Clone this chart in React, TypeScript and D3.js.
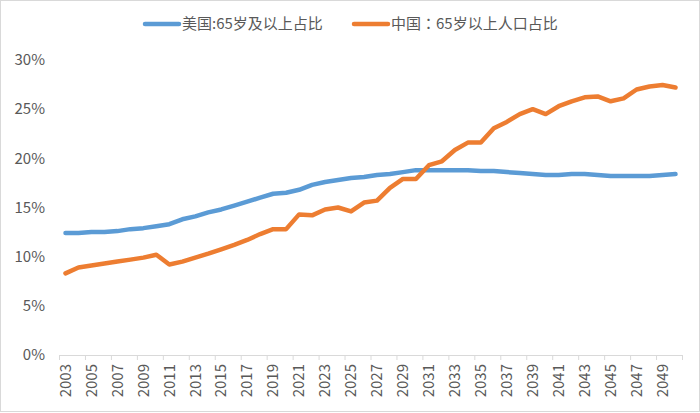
import React from 'react'
import * as d3 from 'd3'

// 年份 2003-2050
const years: number[] = d3.range(2003, 2051)

// 美国:65岁及以上占比 (%)
const usShare: number[] = [
  12.4, 12.4, 12.5, 12.5, 12.6, 12.8, 12.9, 13.1, 13.3, 13.8,
  14.1, 14.5, 14.8, 15.2, 15.6, 16.0, 16.4, 16.5, 16.8, 17.3,
  17.6, 17.8, 18.0, 18.1, 18.3, 18.4, 18.6, 18.8, 18.8, 18.8,
  18.8, 18.8, 18.7, 18.7, 18.6, 18.5, 18.4, 18.3, 18.3, 18.4,
  18.4, 18.3, 18.2, 18.2, 18.2, 18.2, 18.3, 18.4,
]

// 中国：65岁以上人口占比 (%)
const cnShare: number[] = [
  8.3, 8.9, 9.1, 9.3, 9.5, 9.7, 9.9, 10.2, 9.2, 9.5,
  9.9, 10.3, 10.75, 11.2, 11.7, 12.3, 12.8, 12.8, 14.3, 14.2,
  14.8, 15.0, 14.6, 15.5, 15.7, 17.0, 17.9, 17.9, 19.3, 19.7,
  20.85, 21.6, 21.6, 23.05, 23.7, 24.5, 25.0, 24.5, 25.3, 25.8,
  26.2, 26.3, 25.8, 26.1, 27.0, 27.3, 27.45, 27.2,
]

const yTicks: number[] = [0, 5, 10, 15, 20, 25, 30]

const seriesColors = ['#5B9BD5', '#ED7D31']

const W = 700
const H = 413
const FONT = '"Noto Sans CJK SC", "Noto Sans", sans-serif'
const TEXT = '#595959'
const AXIS = '#d9d9d9'

export default function App() {
  if (typeof document !== 'undefined') document.body.style.margin = '0'

  const x = d3.scaleBand<number>().domain(years).range([59, 682]).padding(0)
  const y = d3.scaleLinear().domain([0, 30]).range([355, 60])

  const line = d3.line<number>()
    .x((_, i) => (x(years[i]) || 0) + x.bandwidth() / 2)
    .y((d) => y(d))

  const series = [usShare, cnShare]

  // 刻度线在类别边界，每两个类别一个
  const boundaries = d3.range(0, years.length + 1, 2).map((k) => 59 + k * x.bandwidth())
  const labelYears = years.filter((_, i) => i % 2 === 0)

  return (
    <svg width={W} height={H} style={{ position: 'absolute', left: 0, top: 0, background: '#fff' }} fontFamily={FONT}>
      <rect x={0.5} y={0.5} width={W - 1} height={H - 2} fill="#fff" stroke={AXIS} />

      {/* legend */}
      <g>
        <line x1={145} x2={179} y1={24} y2={24} stroke={seriesColors[0]} strokeWidth={4.5} strokeLinecap="round" />
        <text x={182} y={24} dy="0.35em" fontSize={15} fill={TEXT}>美国:65岁及以上占比</text>
        <line x1={354} x2={388} y1={24} y2={24} stroke={seriesColors[1]} strokeWidth={4.5} strokeLinecap="round" />
        <text x={391} y={24} dy="0.35em" fontSize={15} fill={TEXT}>
          中国<tspan fontFamily='"Noto Sans CJK TC", sans-serif'>：</tspan>65岁以上人口占比
        </text>
      </g>

      {/* y labels */}
      {yTicks.map((t) => (
        <text key={t} x={45} y={y(t)} dy="0.35em" textAnchor="end" fontSize={15} fill={TEXT}>
          {t}%
        </text>
      ))}

      {/* x axis */}
      <line x1={59} x2={682} y1={y(0) + 0.5} y2={y(0) + 0.5} stroke={AXIS} strokeWidth={1} />
      {boundaries.map((bx, i) => (
        <line key={i} x1={bx + 0.5} x2={bx + 0.5} y1={y(0)} y2={y(0) + 5} stroke={AXIS} strokeWidth={1} />
      ))}
      {labelYears.map((yr) => {
        const cx = (x(yr) || 0) + x.bandwidth() / 2
        return (
          <text
            key={yr}
            transform={`translate(${cx},${y(0) + 9}) rotate(-90)`}
            dy="0.35em"
            textAnchor="end"
            fontSize={15}
            fill={TEXT}
          >
            {yr}
          </text>
        )
      })}

      {/* lines */}
      {series.map((s, i) => (
        <path
          key={i}
          d={line(s) || ''}
          fill="none"
          stroke={seriesColors[i]}
          strokeWidth={4.5}
          strokeLinejoin="round"
          strokeLinecap="round"
        />
      ))}
    </svg>
  )
}
